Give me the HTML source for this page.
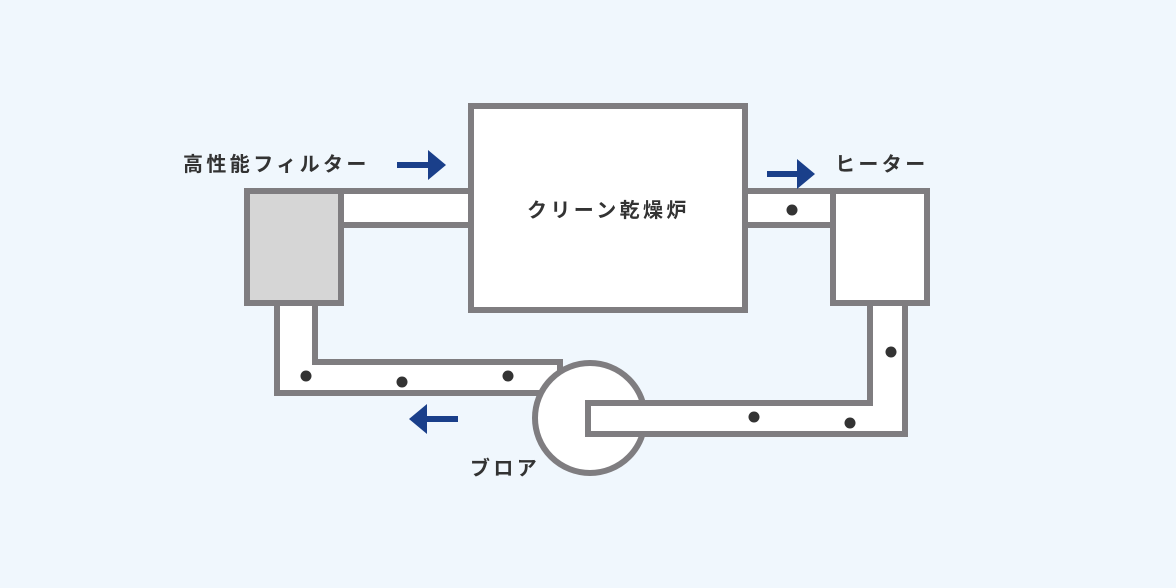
<!DOCTYPE html>
<html><head><meta charset="utf-8"><style>
html,body{margin:0;padding:0;background:#f0f7fd;}
svg{display:block}
text{font-family:"Liberation Sans","Noto Sans CJK JP",sans-serif;font-weight:bold;fill:#333;font-size:20px;letter-spacing:3.4px}
</style></head><body>
<svg width="1176" height="588" viewBox="0 0 1176 588" xmlns="http://www.w3.org/2000/svg">
<rect width="1176" height="588" fill="#f0f7fd"/>
<g stroke="#7f7d80" stroke-width="6" fill="#fff">
<!-- top left pipe -->
<rect x="330" y="191" width="150" height="34"/>
<!-- top right pipe -->
<rect x="735" y="191" width="105" height="34"/>
<!-- left vertical+bottom pipe -->
<path d="M277 300 V393 H560 V362 H315 V300 Z"/>
<!-- circle -->
<circle cx="590" cy="418" r="55"/>
<!-- right pipe -->
<path d="M588 403 H870 V300 H905 V434 H588 Z"/>
<!-- oven -->
<rect x="471" y="106" width="274" height="204"/>
<!-- filter -->
<rect x="247" y="191" width="94" height="112" fill="#d6d6d6"/>
<!-- heater -->
<rect x="833" y="191" width="94" height="112"/>
</g>
<g fill="#333">
<circle cx="306" cy="376" r="5.5"/><circle cx="402" cy="382" r="5.5"/><circle cx="508" cy="376" r="5.5"/>
<circle cx="792" cy="210" r="5.5"/><circle cx="891" cy="352" r="5.5"/><circle cx="754" cy="417" r="5.5"/><circle cx="850" cy="423" r="5.5"/>
</g>
<g fill="#1a3f8a">
<rect x="397" y="162" width="32" height="6"/><polygon points="428,150 446,165 428,180"/>
<rect x="767" y="171" width="31" height="6"/><polygon points="797,159 815,174 797,189"/>
<rect x="426" y="416" width="32" height="6"/><polygon points="427,404 409,419 427,434"/>
</g>
<text x="183" y="171">高性能フィルター</text>
<text x="527" y="217">クリーン乾燥炉</text>
<text x="835" y="171">ヒーター</text>
<text x="470" y="475">ブロア</text>
</svg>
</body></html>
